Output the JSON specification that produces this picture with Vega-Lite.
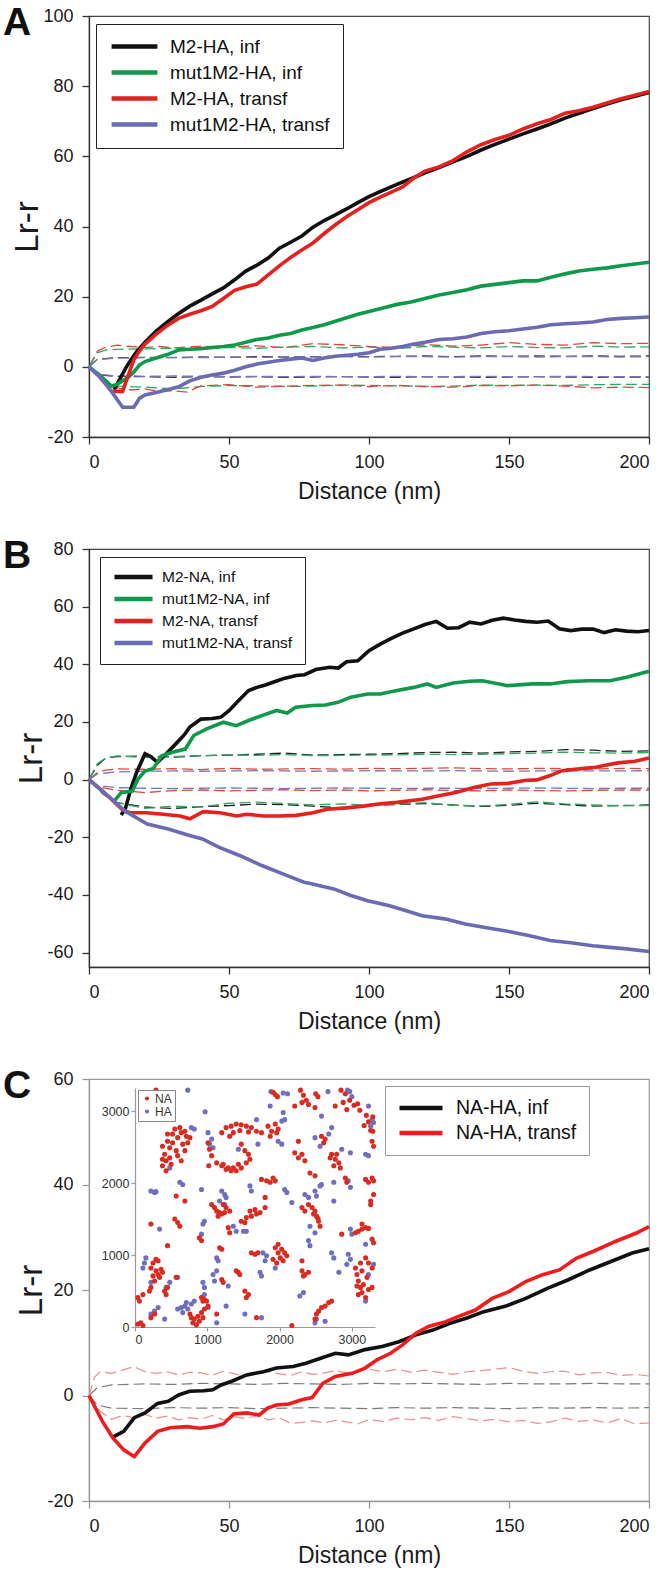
{
"$schema":"https://vega.github.io/schema/vega-lite/v6.json",
"background":"white",
"padding":{"left":2,"top":3,"right":5,"bottom":0},
"spacing":112,
"bounds":"flush",
"config":{
 "font":"Liberation Sans",
 "view":{"stroke":"#444","strokeWidth":1.2},
 "axis":{"grid":false,"domainColor":"#333","tickColor":"#333","tickSize":7,"domainWidth":1.3,"tickWidth":1.3,"labelFontSize":18,"labelColor":"#1a1a1a","labelPadding":9,"titleFontSize":23,"titleFontWeight":"normal","titleColor":"#1a1a1a","labelExpr":"'' + datum.value"},
 "axisX":{"titlePadding":9},
 "axisY":{"titleFontSize":33,"titlePadding":-2},
 "legend":{"title":null,"orient":"none","fillColor":"white","symbolType":"stroke","symbolStrokeWidth":4.5,"labelColor":"#111"}
},
"resolve":{"scale":{"color":"independent","stroke":"independent","fill":"independent"},"legend":{"color":"independent","stroke":"independent","fill":"independent"}},
"datasets":{
"A_solid":[
{"d":9,"v":-6.5,"s":"M2-HA, inf"},{"d":11,"v":-3.5,"s":"M2-HA, inf"},{"d":13,"v":-0.5,"s":"M2-HA, inf"},{"d":15,"v":2,"s":"M2-HA, inf"},{"d":17,"v":4.3,"s":"M2-HA, inf"},{"d":20,"v":7,"s":"M2-HA, inf"},{"d":24,"v":10.2,"s":"M2-HA, inf"},{"d":28,"v":12.8,"s":"M2-HA, inf"},{"d":32,"v":15.2,"s":"M2-HA, inf"},{"d":36,"v":17.3,"s":"M2-HA, inf"},{"d":40,"v":19,"s":"M2-HA, inf"},{"d":44,"v":20.8,"s":"M2-HA, inf"},{"d":48,"v":22.5,"s":"M2-HA, inf"},{"d":52,"v":24.8,"s":"M2-HA, inf"},{"d":56,"v":27.3,"s":"M2-HA, inf"},{"d":60,"v":29,"s":"M2-HA, inf"},{"d":64,"v":31,"s":"M2-HA, inf"},{"d":68,"v":33.8,"s":"M2-HA, inf"},{"d":72,"v":35.5,"s":"M2-HA, inf"},{"d":76,"v":37.3,"s":"M2-HA, inf"},{"d":80,"v":39.8,"s":"M2-HA, inf"},{"d":84,"v":41.7,"s":"M2-HA, inf"},{"d":88,"v":43.3,"s":"M2-HA, inf"},{"d":92,"v":45,"s":"M2-HA, inf"},{"d":96,"v":46.8,"s":"M2-HA, inf"},{"d":100,"v":48.5,"s":"M2-HA, inf"},{"d":105,"v":50.3,"s":"M2-HA, inf"},{"d":110,"v":52,"s":"M2-HA, inf"},{"d":115,"v":53.6,"s":"M2-HA, inf"},{"d":120,"v":55.3,"s":"M2-HA, inf"},{"d":125,"v":56.8,"s":"M2-HA, inf"},{"d":130,"v":58.4,"s":"M2-HA, inf"},{"d":135,"v":60,"s":"M2-HA, inf"},{"d":140,"v":61.8,"s":"M2-HA, inf"},{"d":145,"v":63.4,"s":"M2-HA, inf"},{"d":150,"v":64.9,"s":"M2-HA, inf"},{"d":155,"v":66.4,"s":"M2-HA, inf"},{"d":160,"v":67.8,"s":"M2-HA, inf"},{"d":165,"v":69.3,"s":"M2-HA, inf"},{"d":170,"v":70.9,"s":"M2-HA, inf"},{"d":175,"v":72.3,"s":"M2-HA, inf"},{"d":180,"v":73.6,"s":"M2-HA, inf"},{"d":185,"v":74.9,"s":"M2-HA, inf"},{"d":190,"v":76.1,"s":"M2-HA, inf"},{"d":195,"v":77.1,"s":"M2-HA, inf"},{"d":200,"v":78.2,"s":"M2-HA, inf"},
{"d":0,"v":0,"s":"mut1M2-HA, inf"},{"d":4,"v":-2.5,"s":"mut1M2-HA, inf"},{"d":8,"v":-5.5,"s":"mut1M2-HA, inf"},{"d":10,"v":-5,"s":"mut1M2-HA, inf"},{"d":12,"v":-4,"s":"mut1M2-HA, inf"},{"d":14,"v":-3,"s":"mut1M2-HA, inf"},{"d":16,"v":-1.5,"s":"mut1M2-HA, inf"},{"d":18,"v":0.5,"s":"mut1M2-HA, inf"},{"d":20,"v":1.5,"s":"mut1M2-HA, inf"},{"d":24,"v":2.5,"s":"mut1M2-HA, inf"},{"d":28,"v":3.5,"s":"mut1M2-HA, inf"},{"d":32,"v":4.8,"s":"mut1M2-HA, inf"},{"d":36,"v":5,"s":"mut1M2-HA, inf"},{"d":40,"v":5.2,"s":"mut1M2-HA, inf"},{"d":44,"v":5.5,"s":"mut1M2-HA, inf"},{"d":48,"v":5.8,"s":"mut1M2-HA, inf"},{"d":52,"v":6.2,"s":"mut1M2-HA, inf"},{"d":56,"v":7,"s":"mut1M2-HA, inf"},{"d":60,"v":7.8,"s":"mut1M2-HA, inf"},{"d":64,"v":8.2,"s":"mut1M2-HA, inf"},{"d":68,"v":9,"s":"mut1M2-HA, inf"},{"d":72,"v":9.5,"s":"mut1M2-HA, inf"},{"d":76,"v":10.5,"s":"mut1M2-HA, inf"},{"d":80,"v":11.2,"s":"mut1M2-HA, inf"},{"d":84,"v":12,"s":"mut1M2-HA, inf"},{"d":88,"v":13,"s":"mut1M2-HA, inf"},{"d":92,"v":14,"s":"mut1M2-HA, inf"},{"d":96,"v":15,"s":"mut1M2-HA, inf"},{"d":100,"v":15.8,"s":"mut1M2-HA, inf"},{"d":105,"v":16.8,"s":"mut1M2-HA, inf"},{"d":110,"v":17.8,"s":"mut1M2-HA, inf"},{"d":115,"v":18.5,"s":"mut1M2-HA, inf"},{"d":120,"v":19.5,"s":"mut1M2-HA, inf"},{"d":125,"v":20.5,"s":"mut1M2-HA, inf"},{"d":130,"v":21.2,"s":"mut1M2-HA, inf"},{"d":135,"v":22,"s":"mut1M2-HA, inf"},{"d":140,"v":23,"s":"mut1M2-HA, inf"},{"d":145,"v":23.5,"s":"mut1M2-HA, inf"},{"d":150,"v":24,"s":"mut1M2-HA, inf"},{"d":155,"v":24.5,"s":"mut1M2-HA, inf"},{"d":160,"v":24.5,"s":"mut1M2-HA, inf"},{"d":165,"v":25.5,"s":"mut1M2-HA, inf"},{"d":170,"v":26.5,"s":"mut1M2-HA, inf"},{"d":175,"v":27.3,"s":"mut1M2-HA, inf"},{"d":180,"v":27.8,"s":"mut1M2-HA, inf"},{"d":185,"v":28.2,"s":"mut1M2-HA, inf"},{"d":190,"v":28.8,"s":"mut1M2-HA, inf"},{"d":195,"v":29.3,"s":"mut1M2-HA, inf"},{"d":200,"v":29.8,"s":"mut1M2-HA, inf"},
{"d":8,"v":-7,"s":"M2-HA, transf"},{"d":12,"v":-7,"s":"M2-HA, transf"},{"d":14,"v":-2.5,"s":"M2-HA, transf"},{"d":16,"v":2,"s":"M2-HA, transf"},{"d":18,"v":4.5,"s":"M2-HA, transf"},{"d":20,"v":6.5,"s":"M2-HA, transf"},{"d":24,"v":9.3,"s":"M2-HA, transf"},{"d":28,"v":11.8,"s":"M2-HA, transf"},{"d":32,"v":13.8,"s":"M2-HA, transf"},{"d":36,"v":15,"s":"M2-HA, transf"},{"d":40,"v":16,"s":"M2-HA, transf"},{"d":44,"v":17.2,"s":"M2-HA, transf"},{"d":48,"v":19.5,"s":"M2-HA, transf"},{"d":52,"v":21.8,"s":"M2-HA, transf"},{"d":56,"v":22.8,"s":"M2-HA, transf"},{"d":60,"v":23.6,"s":"M2-HA, transf"},{"d":64,"v":26.2,"s":"M2-HA, transf"},{"d":68,"v":28.8,"s":"M2-HA, transf"},{"d":72,"v":31.2,"s":"M2-HA, transf"},{"d":76,"v":33.3,"s":"M2-HA, transf"},{"d":80,"v":35.3,"s":"M2-HA, transf"},{"d":84,"v":38,"s":"M2-HA, transf"},{"d":88,"v":40.5,"s":"M2-HA, transf"},{"d":92,"v":42.8,"s":"M2-HA, transf"},{"d":96,"v":44.8,"s":"M2-HA, transf"},{"d":100,"v":46.8,"s":"M2-HA, transf"},{"d":104,"v":48.4,"s":"M2-HA, transf"},{"d":108,"v":49.8,"s":"M2-HA, transf"},{"d":112,"v":51.3,"s":"M2-HA, transf"},{"d":116,"v":53.8,"s":"M2-HA, transf"},{"d":120,"v":55.8,"s":"M2-HA, transf"},{"d":125,"v":57,"s":"M2-HA, transf"},{"d":130,"v":58.8,"s":"M2-HA, transf"},{"d":135,"v":61.3,"s":"M2-HA, transf"},{"d":140,"v":63.3,"s":"M2-HA, transf"},{"d":145,"v":64.8,"s":"M2-HA, transf"},{"d":150,"v":66,"s":"M2-HA, transf"},{"d":155,"v":67.8,"s":"M2-HA, transf"},{"d":160,"v":69.3,"s":"M2-HA, transf"},{"d":165,"v":70.5,"s":"M2-HA, transf"},{"d":170,"v":72.3,"s":"M2-HA, transf"},{"d":175,"v":73,"s":"M2-HA, transf"},{"d":180,"v":74,"s":"M2-HA, transf"},{"d":185,"v":75.2,"s":"M2-HA, transf"},{"d":190,"v":76.4,"s":"M2-HA, transf"},{"d":195,"v":77.4,"s":"M2-HA, transf"},{"d":200,"v":78.5,"s":"M2-HA, transf"},
{"d":0,"v":0,"s":"mut1M2-HA, transf"},{"d":4,"v":-3,"s":"mut1M2-HA, transf"},{"d":8,"v":-7,"s":"mut1M2-HA, transf"},{"d":12,"v":-11.5,"s":"mut1M2-HA, transf"},{"d":16,"v":-11.5,"s":"mut1M2-HA, transf"},{"d":18,"v":-9,"s":"mut1M2-HA, transf"},{"d":20,"v":-8,"s":"mut1M2-HA, transf"},{"d":24,"v":-7.3,"s":"mut1M2-HA, transf"},{"d":28,"v":-6.5,"s":"mut1M2-HA, transf"},{"d":32,"v":-5.7,"s":"mut1M2-HA, transf"},{"d":36,"v":-4,"s":"mut1M2-HA, transf"},{"d":40,"v":-3,"s":"mut1M2-HA, transf"},{"d":44,"v":-2.3,"s":"mut1M2-HA, transf"},{"d":48,"v":-1.8,"s":"mut1M2-HA, transf"},{"d":52,"v":-1,"s":"mut1M2-HA, transf"},{"d":56,"v":0,"s":"mut1M2-HA, transf"},{"d":60,"v":0.8,"s":"mut1M2-HA, transf"},{"d":64,"v":1.3,"s":"mut1M2-HA, transf"},{"d":68,"v":1.8,"s":"mut1M2-HA, transf"},{"d":72,"v":2.2,"s":"mut1M2-HA, transf"},{"d":76,"v":2.5,"s":"mut1M2-HA, transf"},{"d":80,"v":1.8,"s":"mut1M2-HA, transf"},{"d":84,"v":2.5,"s":"mut1M2-HA, transf"},{"d":88,"v":3,"s":"mut1M2-HA, transf"},{"d":92,"v":3.3,"s":"mut1M2-HA, transf"},{"d":96,"v":3.6,"s":"mut1M2-HA, transf"},{"d":100,"v":4,"s":"mut1M2-HA, transf"},{"d":104,"v":5,"s":"mut1M2-HA, transf"},{"d":108,"v":5.3,"s":"mut1M2-HA, transf"},{"d":112,"v":5.8,"s":"mut1M2-HA, transf"},{"d":116,"v":6.5,"s":"mut1M2-HA, transf"},{"d":120,"v":7,"s":"mut1M2-HA, transf"},{"d":125,"v":7.8,"s":"mut1M2-HA, transf"},{"d":130,"v":8,"s":"mut1M2-HA, transf"},{"d":135,"v":8.5,"s":"mut1M2-HA, transf"},{"d":140,"v":9.5,"s":"mut1M2-HA, transf"},{"d":145,"v":10,"s":"mut1M2-HA, transf"},{"d":150,"v":10.3,"s":"mut1M2-HA, transf"},{"d":155,"v":10.8,"s":"mut1M2-HA, transf"},{"d":160,"v":11.3,"s":"mut1M2-HA, transf"},{"d":165,"v":12,"s":"mut1M2-HA, transf"},{"d":170,"v":12.3,"s":"mut1M2-HA, transf"},{"d":175,"v":12.5,"s":"mut1M2-HA, transf"},{"d":180,"v":12.8,"s":"mut1M2-HA, transf"},{"d":185,"v":13.5,"s":"mut1M2-HA, transf"},{"d":190,"v":13.8,"s":"mut1M2-HA, transf"},{"d":195,"v":14,"s":"mut1M2-HA, transf"},{"d":200,"v":14.2,"s":"mut1M2-HA, transf"}
],
"A_env":[
{"d":0,"v":0,"e":"r+"},{"d":3,"v":4.5,"e":"r+"},{"d":6,"v":5.6,"e":"r+"},{"d":10,"v":6.2,"e":"r+"},{"d":15,"v":5.8,"e":"r+"},{"d":20,"v":5.5,"e":"r+"},{"d":25,"v":5.8,"e":"r+"},{"d":30,"v":5.4,"e":"r+"},{"d":40,"v":5.9,"e":"r+"},{"d":50,"v":5.6,"e":"r+"},{"d":60,"v":6,"e":"r+"},{"d":70,"v":5.5,"e":"r+"},{"d":80,"v":6.6,"e":"r+"},{"d":90,"v":6.3,"e":"r+"},{"d":100,"v":5.8,"e":"r+"},{"d":110,"v":5.5,"e":"r+"},{"d":120,"v":6.3,"e":"r+"},{"d":130,"v":5.9,"e":"r+"},{"d":140,"v":6.2,"e":"r+"},{"d":150,"v":6.9,"e":"r+"},{"d":160,"v":6.4,"e":"r+"},{"d":170,"v":6.2,"e":"r+"},{"d":180,"v":6.9,"e":"r+"},{"d":190,"v":6.6,"e":"r+"},{"d":200,"v":6.7,"e":"r+"},
{"d":0,"v":0,"e":"g+"},{"d":3,"v":4,"e":"g+"},{"d":6,"v":4.8,"e":"g+"},{"d":10,"v":5,"e":"g+"},{"d":20,"v":5.1,"e":"g+"},{"d":30,"v":5.3,"e":"g+"},{"d":40,"v":5.1,"e":"g+"},{"d":50,"v":5.5,"e":"g+"},{"d":60,"v":5.3,"e":"g+"},{"d":70,"v":5.6,"e":"g+"},{"d":80,"v":5.8,"e":"g+"},{"d":90,"v":5.4,"e":"g+"},{"d":100,"v":5.6,"e":"g+"},{"d":110,"v":5.2,"e":"g+"},{"d":120,"v":5.8,"e":"g+"},{"d":130,"v":5.6,"e":"g+"},{"d":140,"v":5.4,"e":"g+"},{"d":150,"v":5.8,"e":"g+"},{"d":160,"v":5.5,"e":"g+"},{"d":170,"v":5.4,"e":"g+"},{"d":180,"v":5.9,"e":"g+"},{"d":190,"v":5.6,"e":"g+"},{"d":200,"v":5.7,"e":"g+"},
{"d":0,"v":0,"e":"k+"},{"d":3,"v":2.2,"e":"k+"},{"d":10,"v":2.6,"e":"k+"},{"d":20,"v":2.7,"e":"k+"},{"d":30,"v":2.6,"e":"k+"},{"d":40,"v":2.8,"e":"k+"},{"d":50,"v":2.7,"e":"k+"},{"d":60,"v":2.9,"e":"k+"},{"d":70,"v":2.8,"e":"k+"},{"d":80,"v":2.9,"e":"k+"},{"d":90,"v":3,"e":"k+"},{"d":100,"v":2.9,"e":"k+"},{"d":110,"v":3,"e":"k+"},{"d":120,"v":3.1,"e":"k+"},{"d":130,"v":2.9,"e":"k+"},{"d":140,"v":3.1,"e":"k+"},{"d":150,"v":3,"e":"k+"},{"d":160,"v":3.1,"e":"k+"},{"d":170,"v":3,"e":"k+"},{"d":180,"v":3.1,"e":"k+"},{"d":190,"v":3,"e":"k+"},{"d":200,"v":3.1,"e":"k+"},
{"d":0,"v":0,"e":"p+"},{"d":3,"v":2.1,"e":"p+"},{"d":10,"v":2.5,"e":"p+"},{"d":20,"v":2.6,"e":"p+"},{"d":30,"v":2.7,"e":"p+"},{"d":40,"v":2.6,"e":"p+"},{"d":50,"v":2.8,"e":"p+"},{"d":60,"v":2.7,"e":"p+"},{"d":70,"v":2.8,"e":"p+"},{"d":80,"v":2.8,"e":"p+"},{"d":90,"v":2.9,"e":"p+"},{"d":100,"v":2.8,"e":"p+"},{"d":110,"v":2.9,"e":"p+"},{"d":120,"v":2.9,"e":"p+"},{"d":130,"v":2.8,"e":"p+"},{"d":140,"v":2.9,"e":"p+"},{"d":150,"v":2.9,"e":"p+"},{"d":160,"v":2.8,"e":"p+"},{"d":170,"v":2.9,"e":"p+"},{"d":180,"v":2.9,"e":"p+"},{"d":190,"v":2.8,"e":"p+"},{"d":200,"v":2.9,"e":"p+"},
{"d":0,"v":0,"e":"k-"},{"d":3,"v":-2.3,"e":"k-"},{"d":10,"v":-2.7,"e":"k-"},{"d":20,"v":-2.8,"e":"k-"},{"d":30,"v":-3,"e":"k-"},{"d":40,"v":-2.8,"e":"k-"},{"d":50,"v":-2.9,"e":"k-"},{"d":60,"v":-2.8,"e":"k-"},{"d":70,"v":-3,"e":"k-"},{"d":80,"v":-2.9,"e":"k-"},{"d":90,"v":-2.8,"e":"k-"},{"d":100,"v":-2.9,"e":"k-"},{"d":110,"v":-3,"e":"k-"},{"d":120,"v":-2.8,"e":"k-"},{"d":130,"v":-2.9,"e":"k-"},{"d":140,"v":-3,"e":"k-"},{"d":150,"v":-2.9,"e":"k-"},{"d":160,"v":-2.8,"e":"k-"},{"d":170,"v":-2.9,"e":"k-"},{"d":180,"v":-3,"e":"k-"},{"d":190,"v":-2.9,"e":"k-"},{"d":200,"v":-2.9,"e":"k-"},
{"d":0,"v":0,"e":"p-"},{"d":3,"v":-2.1,"e":"p-"},{"d":10,"v":-2.6,"e":"p-"},{"d":20,"v":-2.7,"e":"p-"},{"d":30,"v":-2.6,"e":"p-"},{"d":40,"v":-2.7,"e":"p-"},{"d":50,"v":-2.8,"e":"p-"},{"d":60,"v":-2.7,"e":"p-"},{"d":70,"v":-2.8,"e":"p-"},{"d":80,"v":-2.7,"e":"p-"},{"d":90,"v":-2.8,"e":"p-"},{"d":100,"v":-2.8,"e":"p-"},{"d":110,"v":-2.7,"e":"p-"},{"d":120,"v":-2.8,"e":"p-"},{"d":130,"v":-2.8,"e":"p-"},{"d":140,"v":-2.7,"e":"p-"},{"d":150,"v":-2.8,"e":"p-"},{"d":160,"v":-2.8,"e":"p-"},{"d":170,"v":-2.7,"e":"p-"},{"d":180,"v":-2.8,"e":"p-"},{"d":190,"v":-2.8,"e":"p-"},{"d":200,"v":-2.8,"e":"p-"},
{"d":0,"v":0,"e":"g-"},{"d":5,"v":-4,"e":"g-"},{"d":10,"v":-5.5,"e":"g-"},{"d":20,"v":-5.8,"e":"g-"},{"d":30,"v":-6.3,"e":"g-"},{"d":40,"v":-5.6,"e":"g-"},{"d":50,"v":-5.3,"e":"g-"},{"d":60,"v":-5.4,"e":"g-"},{"d":70,"v":-5.6,"e":"g-"},{"d":80,"v":-5.5,"e":"g-"},{"d":90,"v":-5.2,"e":"g-"},{"d":100,"v":-5.3,"e":"g-"},{"d":110,"v":-5.4,"e":"g-"},{"d":120,"v":-5.6,"e":"g-"},{"d":130,"v":-5.5,"e":"g-"},{"d":140,"v":-5.2,"e":"g-"},{"d":150,"v":-5.3,"e":"g-"},{"d":160,"v":-5.2,"e":"g-"},{"d":170,"v":-5.3,"e":"g-"},{"d":180,"v":-5.1,"e":"g-"},{"d":190,"v":-5,"e":"g-"},{"d":200,"v":-5,"e":"g-"},
{"d":0,"v":0,"e":"r-"},{"d":5,"v":-4.5,"e":"r-"},{"d":10,"v":-6,"e":"r-"},{"d":15,"v":-6.6,"e":"r-"},{"d":20,"v":-6.3,"e":"r-"},{"d":25,"v":-7,"e":"r-"},{"d":30,"v":-6.8,"e":"r-"},{"d":35,"v":-7.2,"e":"r-"},{"d":40,"v":-5.4,"e":"r-"},{"d":50,"v":-5.1,"e":"r-"},{"d":60,"v":-5.8,"e":"r-"},{"d":70,"v":-5.5,"e":"r-"},{"d":80,"v":-5.3,"e":"r-"},{"d":90,"v":-5.2,"e":"r-"},{"d":100,"v":-5.6,"e":"r-"},{"d":110,"v":-5.3,"e":"r-"},{"d":120,"v":-5.6,"e":"r-"},{"d":130,"v":-5.8,"e":"r-"},{"d":140,"v":-5.3,"e":"r-"},{"d":150,"v":-5.4,"e":"r-"},{"d":160,"v":-5.2,"e":"r-"},{"d":170,"v":-5.5,"e":"r-"},{"d":180,"v":-6,"e":"r-"},{"d":190,"v":-5.8,"e":"r-"},{"d":200,"v":-5.9,"e":"r-"}
],
"B_solid":[
{"d":11.5,"v":-12.3,"s":"M2-NA, inf"},{"d":13,"v":-10,"s":"M2-NA, inf"},{"d":15,"v":-3,"s":"M2-NA, inf"},{"d":17,"v":2.5,"s":"M2-NA, inf"},{"d":20,"v":9,"s":"M2-NA, inf"},{"d":22,"v":8,"s":"M2-NA, inf"},{"d":24.5,"v":6,"s":"M2-NA, inf"},{"d":27.5,"v":8.9,"s":"M2-NA, inf"},{"d":31,"v":12.4,"s":"M2-NA, inf"},{"d":34,"v":15.5,"s":"M2-NA, inf"},{"d":36,"v":18.2,"s":"M2-NA, inf"},{"d":40,"v":21,"s":"M2-NA, inf"},{"d":44,"v":21.2,"s":"M2-NA, inf"},{"d":47,"v":21.6,"s":"M2-NA, inf"},{"d":50,"v":23.9,"s":"M2-NA, inf"},{"d":53,"v":27,"s":"M2-NA, inf"},{"d":57,"v":30.9,"s":"M2-NA, inf"},{"d":60,"v":32,"s":"M2-NA, inf"},{"d":63,"v":32.8,"s":"M2-NA, inf"},{"d":67,"v":34.2,"s":"M2-NA, inf"},{"d":70,"v":35.2,"s":"M2-NA, inf"},{"d":74,"v":36.1,"s":"M2-NA, inf"},{"d":77,"v":36.4,"s":"M2-NA, inf"},{"d":81,"v":38.2,"s":"M2-NA, inf"},{"d":86,"v":39,"s":"M2-NA, inf"},{"d":89,"v":38.7,"s":"M2-NA, inf"},{"d":92,"v":40.9,"s":"M2-NA, inf"},{"d":96,"v":41.2,"s":"M2-NA, inf"},{"d":100,"v":44.7,"s":"M2-NA, inf"},{"d":104,"v":47,"s":"M2-NA, inf"},{"d":108,"v":49,"s":"M2-NA, inf"},{"d":112,"v":50.8,"s":"M2-NA, inf"},{"d":116,"v":52.3,"s":"M2-NA, inf"},{"d":120,"v":53.8,"s":"M2-NA, inf"},{"d":124,"v":54.9,"s":"M2-NA, inf"},{"d":128,"v":52.5,"s":"M2-NA, inf"},{"d":132,"v":52.7,"s":"M2-NA, inf"},{"d":136,"v":54.6,"s":"M2-NA, inf"},{"d":140,"v":54,"s":"M2-NA, inf"},{"d":144,"v":55.3,"s":"M2-NA, inf"},{"d":148,"v":56,"s":"M2-NA, inf"},{"d":152,"v":55.4,"s":"M2-NA, inf"},{"d":156,"v":54.9,"s":"M2-NA, inf"},{"d":160,"v":54.6,"s":"M2-NA, inf"},{"d":164,"v":55,"s":"M2-NA, inf"},{"d":168,"v":52.3,"s":"M2-NA, inf"},{"d":172,"v":51.7,"s":"M2-NA, inf"},{"d":176,"v":52.2,"s":"M2-NA, inf"},{"d":180,"v":52.2,"s":"M2-NA, inf"},{"d":184,"v":51,"s":"M2-NA, inf"},{"d":188,"v":52,"s":"M2-NA, inf"},{"d":192,"v":51.5,"s":"M2-NA, inf"},{"d":196,"v":51.3,"s":"M2-NA, inf"},{"d":200,"v":51.7,"s":"M2-NA, inf"},
{"d":8.5,"v":-8,"s":"mut1M2-NA, inf"},{"d":11.5,"v":-4.5,"s":"mut1M2-NA, inf"},{"d":15.5,"v":-4,"s":"mut1M2-NA, inf"},{"d":17.5,"v":0.2,"s":"mut1M2-NA, inf"},{"d":20,"v":3,"s":"mut1M2-NA, inf"},{"d":23,"v":3.9,"s":"mut1M2-NA, inf"},{"d":26,"v":8.3,"s":"mut1M2-NA, inf"},{"d":29.8,"v":9.5,"s":"mut1M2-NA, inf"},{"d":34.4,"v":10.6,"s":"mut1M2-NA, inf"},{"d":37.4,"v":15.3,"s":"mut1M2-NA, inf"},{"d":42,"v":17.6,"s":"mut1M2-NA, inf"},{"d":48,"v":19.9,"s":"mut1M2-NA, inf"},{"d":52.6,"v":18.7,"s":"mut1M2-NA, inf"},{"d":57,"v":20.5,"s":"mut1M2-NA, inf"},{"d":61.7,"v":22.2,"s":"mut1M2-NA, inf"},{"d":67,"v":24,"s":"mut1M2-NA, inf"},{"d":70.8,"v":23.1,"s":"mut1M2-NA, inf"},{"d":73.8,"v":25.1,"s":"mut1M2-NA, inf"},{"d":79.8,"v":25.7,"s":"mut1M2-NA, inf"},{"d":84.4,"v":25.9,"s":"mut1M2-NA, inf"},{"d":88.9,"v":26.8,"s":"mut1M2-NA, inf"},{"d":93.5,"v":28.6,"s":"mut1M2-NA, inf"},{"d":99.5,"v":29.7,"s":"mut1M2-NA, inf"},{"d":104,"v":29.7,"s":"mut1M2-NA, inf"},{"d":110,"v":30.9,"s":"mut1M2-NA, inf"},{"d":116,"v":32,"s":"mut1M2-NA, inf"},{"d":120.8,"v":33.2,"s":"mut1M2-NA, inf"},{"d":124,"v":32,"s":"mut1M2-NA, inf"},{"d":130,"v":33.5,"s":"mut1M2-NA, inf"},{"d":136,"v":34.1,"s":"mut1M2-NA, inf"},{"d":140.5,"v":34.3,"s":"mut1M2-NA, inf"},{"d":146.5,"v":33.2,"s":"mut1M2-NA, inf"},{"d":149.5,"v":32.6,"s":"mut1M2-NA, inf"},{"d":158.6,"v":33.2,"s":"mut1M2-NA, inf"},{"d":164.7,"v":33.2,"s":"mut1M2-NA, inf"},{"d":170.8,"v":34,"s":"mut1M2-NA, inf"},{"d":178.3,"v":34.3,"s":"mut1M2-NA, inf"},{"d":186,"v":34.3,"s":"mut1M2-NA, inf"},{"d":192,"v":35.5,"s":"mut1M2-NA, inf"},{"d":200,"v":37.6,"s":"mut1M2-NA, inf"},
{"d":0,"v":0,"s":"M2-NA, transf"},{"d":4,"v":-3.3,"s":"M2-NA, transf"},{"d":8,"v":-6.8,"s":"M2-NA, transf"},{"d":12,"v":-10.5,"s":"M2-NA, transf"},{"d":14.6,"v":-11.5,"s":"M2-NA, transf"},{"d":20.6,"v":-11.5,"s":"M2-NA, transf"},{"d":26.5,"v":-12,"s":"M2-NA, transf"},{"d":32.5,"v":-12.6,"s":"M2-NA, transf"},{"d":36,"v":-13.6,"s":"M2-NA, transf"},{"d":40.8,"v":-11.1,"s":"M2-NA, transf"},{"d":46.8,"v":-11.5,"s":"M2-NA, transf"},{"d":52.7,"v":-12.6,"s":"M2-NA, transf"},{"d":56.3,"v":-12,"s":"M2-NA, transf"},{"d":62.3,"v":-12.6,"s":"M2-NA, transf"},{"d":68.2,"v":-12.6,"s":"M2-NA, transf"},{"d":74,"v":-12.4,"s":"M2-NA, transf"},{"d":80,"v":-11.5,"s":"M2-NA, transf"},{"d":85,"v":-10.3,"s":"M2-NA, transf"},{"d":92,"v":-9.8,"s":"M2-NA, transf"},{"d":98,"v":-9.2,"s":"M2-NA, transf"},{"d":104,"v":-8.4,"s":"M2-NA, transf"},{"d":110,"v":-7.9,"s":"M2-NA, transf"},{"d":119,"v":-6.8,"s":"M2-NA, transf"},{"d":125,"v":-5.6,"s":"M2-NA, transf"},{"d":131.4,"v":-4.4,"s":"M2-NA, transf"},{"d":137.4,"v":-2.7,"s":"M2-NA, transf"},{"d":143.5,"v":-1.5,"s":"M2-NA, transf"},{"d":149.5,"v":-1.3,"s":"M2-NA, transf"},{"d":155.6,"v":-0.3,"s":"M2-NA, transf"},{"d":160,"v":-0.1,"s":"M2-NA, transf"},{"d":164.7,"v":1.4,"s":"M2-NA, transf"},{"d":169,"v":3.1,"s":"M2-NA, transf"},{"d":176.8,"v":3.9,"s":"M2-NA, transf"},{"d":181,"v":4.3,"s":"M2-NA, transf"},{"d":184,"v":4.9,"s":"M2-NA, transf"},{"d":188.9,"v":5.8,"s":"M2-NA, transf"},{"d":195,"v":6.4,"s":"M2-NA, transf"},{"d":200,"v":7.5,"s":"M2-NA, transf"},
{"d":0,"v":0,"s":"mut1M2-NA, transf"},{"d":7,"v":-5.8,"s":"mut1M2-NA, transf"},{"d":13,"v":-11,"s":"mut1M2-NA, transf"},{"d":20.8,"v":-15.4,"s":"mut1M2-NA, transf"},{"d":28.3,"v":-17.1,"s":"mut1M2-NA, transf"},{"d":35.9,"v":-19.4,"s":"mut1M2-NA, transf"},{"d":40.5,"v":-20.6,"s":"mut1M2-NA, transf"},{"d":46.5,"v":-23.5,"s":"mut1M2-NA, transf"},{"d":54,"v":-26.4,"s":"mut1M2-NA, transf"},{"d":61.7,"v":-29.8,"s":"mut1M2-NA, transf"},{"d":70.8,"v":-33.3,"s":"mut1M2-NA, transf"},{"d":76.8,"v":-35.6,"s":"mut1M2-NA, transf"},{"d":79.8,"v":-36.2,"s":"mut1M2-NA, transf"},{"d":87.4,"v":-37.9,"s":"mut1M2-NA, transf"},{"d":93.5,"v":-40.2,"s":"mut1M2-NA, transf"},{"d":99.5,"v":-42,"s":"mut1M2-NA, transf"},{"d":107,"v":-43.7,"s":"mut1M2-NA, transf"},{"d":113,"v":-45.4,"s":"mut1M2-NA, transf"},{"d":119,"v":-47.2,"s":"mut1M2-NA, transf"},{"d":127,"v":-48.3,"s":"mut1M2-NA, transf"},{"d":134.4,"v":-50.1,"s":"mut1M2-NA, transf"},{"d":142,"v":-51.4,"s":"mut1M2-NA, transf"},{"d":149.5,"v":-52.6,"s":"mut1M2-NA, transf"},{"d":157,"v":-54.1,"s":"mut1M2-NA, transf"},{"d":164.7,"v":-55.8,"s":"mut1M2-NA, transf"},{"d":172,"v":-56.6,"s":"mut1M2-NA, transf"},{"d":180,"v":-57.6,"s":"mut1M2-NA, transf"},{"d":186,"v":-58.2,"s":"mut1M2-NA, transf"},{"d":192,"v":-58.7,"s":"mut1M2-NA, transf"},{"d":200,"v":-59.6,"s":"mut1M2-NA, transf"}
],
"B_env":[
{"d":0,"v":0,"e":"k+"},{"d":3,"v":5,"e":"k+"},{"d":6,"v":7.5,"e":"k+"},{"d":10,"v":8,"e":"k+"},{"d":20,"v":8.2,"e":"k+"},{"d":30,"v":7.8,"e":"k+"},{"d":40,"v":8.3,"e":"k+"},{"d":50,"v":8.5,"e":"k+"},{"d":60,"v":8.8,"e":"k+"},{"d":70,"v":9.2,"e":"k+"},{"d":80,"v":8.5,"e":"k+"},{"d":90,"v":8.7,"e":"k+"},{"d":100,"v":8.8,"e":"k+"},{"d":110,"v":9,"e":"k+"},{"d":120,"v":9.4,"e":"k+"},{"d":130,"v":9.5,"e":"k+"},{"d":140,"v":9.2,"e":"k+"},{"d":150,"v":9.6,"e":"k+"},{"d":160,"v":9.8,"e":"k+"},{"d":170,"v":10.4,"e":"k+"},{"d":180,"v":10.2,"e":"k+"},{"d":190,"v":9.8,"e":"k+"},{"d":200,"v":10,"e":"k+"},
{"d":0,"v":0,"e":"g+"},{"d":3,"v":5.5,"e":"g+"},{"d":6,"v":7.5,"e":"g+"},{"d":10,"v":8.2,"e":"g+"},{"d":20,"v":7.7,"e":"g+"},{"d":30,"v":8,"e":"g+"},{"d":40,"v":8.3,"e":"g+"},{"d":50,"v":8.6,"e":"g+"},{"d":60,"v":8.4,"e":"g+"},{"d":70,"v":8.7,"e":"g+"},{"d":80,"v":8.3,"e":"g+"},{"d":90,"v":8.4,"e":"g+"},{"d":100,"v":8.5,"e":"g+"},{"d":110,"v":8.6,"e":"g+"},{"d":120,"v":8.8,"e":"g+"},{"d":130,"v":8.7,"e":"g+"},{"d":140,"v":8.8,"e":"g+"},{"d":150,"v":9,"e":"g+"},{"d":160,"v":9.2,"e":"g+"},{"d":170,"v":9.5,"e":"g+"},{"d":180,"v":9.3,"e":"g+"},{"d":190,"v":9.2,"e":"g+"},{"d":200,"v":9.4,"e":"g+"},
{"d":0,"v":0,"e":"r+"},{"d":3,"v":2.5,"e":"r+"},{"d":6,"v":3.3,"e":"r+"},{"d":10,"v":3.7,"e":"r+"},{"d":20,"v":3.6,"e":"r+"},{"d":30,"v":3.8,"e":"r+"},{"d":40,"v":3.5,"e":"r+"},{"d":50,"v":3.9,"e":"r+"},{"d":60,"v":3.6,"e":"r+"},{"d":70,"v":3.7,"e":"r+"},{"d":80,"v":3.8,"e":"r+"},{"d":90,"v":3.6,"e":"r+"},{"d":100,"v":3.9,"e":"r+"},{"d":110,"v":3.8,"e":"r+"},{"d":120,"v":3.9,"e":"r+"},{"d":130,"v":4.1,"e":"r+"},{"d":140,"v":3.8,"e":"r+"},{"d":150,"v":3.7,"e":"r+"},{"d":160,"v":3.9,"e":"r+"},{"d":170,"v":3.8,"e":"r+"},{"d":180,"v":3.7,"e":"r+"},{"d":190,"v":3.9,"e":"r+"},{"d":200,"v":3.8,"e":"r+"},
{"d":0,"v":0,"e":"p+"},{"d":3,"v":2,"e":"p+"},{"d":10,"v":2.7,"e":"p+"},{"d":20,"v":2.9,"e":"p+"},{"d":30,"v":3,"e":"p+"},{"d":40,"v":2.9,"e":"p+"},{"d":50,"v":3,"e":"p+"},{"d":60,"v":3.1,"e":"p+"},{"d":70,"v":3,"e":"p+"},{"d":80,"v":2.9,"e":"p+"},{"d":90,"v":3,"e":"p+"},{"d":100,"v":3.1,"e":"p+"},{"d":110,"v":3,"e":"p+"},{"d":120,"v":3,"e":"p+"},{"d":130,"v":3.1,"e":"p+"},{"d":140,"v":3,"e":"p+"},{"d":150,"v":2.9,"e":"p+"},{"d":160,"v":3,"e":"p+"},{"d":170,"v":3.1,"e":"p+"},{"d":180,"v":3,"e":"p+"},{"d":190,"v":3,"e":"p+"},{"d":200,"v":3.1,"e":"p+"},
{"d":0,"v":0,"e":"p-"},{"d":3,"v":-2,"e":"p-"},{"d":10,"v":-2.8,"e":"p-"},{"d":20,"v":-3,"e":"p-"},{"d":30,"v":-3.1,"e":"p-"},{"d":40,"v":-3,"e":"p-"},{"d":50,"v":-2.9,"e":"p-"},{"d":60,"v":-3,"e":"p-"},{"d":70,"v":-3.1,"e":"p-"},{"d":80,"v":-3,"e":"p-"},{"d":90,"v":-2.9,"e":"p-"},{"d":100,"v":-3,"e":"p-"},{"d":110,"v":-3.1,"e":"p-"},{"d":120,"v":-3,"e":"p-"},{"d":130,"v":-3,"e":"p-"},{"d":140,"v":-3.1,"e":"p-"},{"d":150,"v":-3,"e":"p-"},{"d":160,"v":-2.9,"e":"p-"},{"d":170,"v":-3,"e":"p-"},{"d":180,"v":-3.1,"e":"p-"},{"d":190,"v":-3,"e":"p-"},{"d":200,"v":-3,"e":"p-"},
{"d":0,"v":0,"e":"r-"},{"d":3,"v":-2.5,"e":"r-"},{"d":10,"v":-3.7,"e":"r-"},{"d":20,"v":-4.5,"e":"r-"},{"d":30,"v":-3.8,"e":"r-"},{"d":40,"v":-3.6,"e":"r-"},{"d":50,"v":-3.9,"e":"r-"},{"d":60,"v":-3.7,"e":"r-"},{"d":70,"v":-3.5,"e":"r-"},{"d":80,"v":-3.8,"e":"r-"},{"d":90,"v":-3.6,"e":"r-"},{"d":100,"v":-3.9,"e":"r-"},{"d":110,"v":-3.7,"e":"r-"},{"d":120,"v":-3.5,"e":"r-"},{"d":130,"v":-3.8,"e":"r-"},{"d":140,"v":-3.9,"e":"r-"},{"d":150,"v":-3.6,"e":"r-"},{"d":160,"v":-3.8,"e":"r-"},{"d":170,"v":-3.9,"e":"r-"},{"d":180,"v":-3.7,"e":"r-"},{"d":190,"v":-3.6,"e":"r-"},{"d":200,"v":-3.6,"e":"r-"},
{"d":0,"v":0,"e":"k-"},{"d":5,"v":-5,"e":"k-"},{"d":10,"v":-8,"e":"k-"},{"d":20,"v":-9.5,"e":"k-"},{"d":30,"v":-10,"e":"k-"},{"d":40,"v":-9.4,"e":"k-"},{"d":50,"v":-9,"e":"k-"},{"d":60,"v":-8.5,"e":"k-"},{"d":70,"v":-8.7,"e":"k-"},{"d":80,"v":-9.2,"e":"k-"},{"d":90,"v":-9.8,"e":"k-"},{"d":100,"v":-9,"e":"k-"},{"d":110,"v":-8.6,"e":"k-"},{"d":120,"v":-8.3,"e":"k-"},{"d":130,"v":-8.8,"e":"k-"},{"d":140,"v":-9.3,"e":"k-"},{"d":150,"v":-8.9,"e":"k-"},{"d":160,"v":-8.2,"e":"k-"},{"d":170,"v":-8.7,"e":"k-"},{"d":180,"v":-9.2,"e":"k-"},{"d":190,"v":-9,"e":"k-"},{"d":200,"v":-8.8,"e":"k-"},
{"d":0,"v":0,"e":"g-"},{"d":5,"v":-5,"e":"g-"},{"d":10,"v":-8,"e":"g-"},{"d":20,"v":-10,"e":"g-"},{"d":30,"v":-9.2,"e":"g-"},{"d":40,"v":-9.5,"e":"g-"},{"d":50,"v":-8.2,"e":"g-"},{"d":60,"v":-7.8,"e":"g-"},{"d":70,"v":-8.3,"e":"g-"},{"d":80,"v":-8.8,"e":"g-"},{"d":90,"v":-8.4,"e":"g-"},{"d":100,"v":-8.9,"e":"g-"},{"d":110,"v":-8.5,"e":"g-"},{"d":120,"v":-8,"e":"g-"},{"d":130,"v":-8.9,"e":"g-"},{"d":140,"v":-9.1,"e":"g-"},{"d":150,"v":-8.6,"e":"g-"},{"d":160,"v":-7.7,"e":"g-"},{"d":170,"v":-8.4,"e":"g-"},{"d":180,"v":-8.8,"e":"g-"},{"d":190,"v":-9,"e":"g-"},{"d":200,"v":-9,"e":"g-"}
],
"C_solid":[
{"d":8.2,"v":-8,"s":"NA-HA, inf"},{"d":12.4,"v":-6.8,"s":"NA-HA, inf"},{"d":16.2,"v":-4.2,"s":"NA-HA, inf"},{"d":20,"v":-3.3,"s":"NA-HA, inf"},{"d":24.5,"v":-1.5,"s":"NA-HA, inf"},{"d":28.3,"v":-1.1,"s":"NA-HA, inf"},{"d":32,"v":0.1,"s":"NA-HA, inf"},{"d":35.9,"v":0.8,"s":"NA-HA, inf"},{"d":41,"v":0.9,"s":"NA-HA, inf"},{"d":44.2,"v":1.1,"s":"NA-HA, inf"},{"d":47.2,"v":2,"s":"NA-HA, inf"},{"d":51,"v":2.7,"s":"NA-HA, inf"},{"d":56.3,"v":3.9,"s":"NA-HA, inf"},{"d":62.3,"v":4.5,"s":"NA-HA, inf"},{"d":66.9,"v":5.2,"s":"NA-HA, inf"},{"d":72.9,"v":5.5,"s":"NA-HA, inf"},{"d":77.5,"v":6.1,"s":"NA-HA, inf"},{"d":83.5,"v":7.2,"s":"NA-HA, inf"},{"d":88,"v":8,"s":"NA-HA, inf"},{"d":92.6,"v":7.7,"s":"NA-HA, inf"},{"d":98.6,"v":8.7,"s":"NA-HA, inf"},{"d":104.7,"v":9.3,"s":"NA-HA, inf"},{"d":110.7,"v":10.2,"s":"NA-HA, inf"},{"d":116.8,"v":11.5,"s":"NA-HA, inf"},{"d":122.8,"v":12.4,"s":"NA-HA, inf"},{"d":128.9,"v":13.7,"s":"NA-HA, inf"},{"d":135,"v":14.7,"s":"NA-HA, inf"},{"d":141,"v":15.9,"s":"NA-HA, inf"},{"d":148.6,"v":16.9,"s":"NA-HA, inf"},{"d":156,"v":18.4,"s":"NA-HA, inf"},{"d":163.7,"v":20.3,"s":"NA-HA, inf"},{"d":171,"v":21.9,"s":"NA-HA, inf"},{"d":178.8,"v":23.8,"s":"NA-HA, inf"},{"d":186.4,"v":25.4,"s":"NA-HA, inf"},{"d":194,"v":27,"s":"NA-HA, inf"},{"d":200,"v":27.8,"s":"NA-HA, inf"},
{"d":0,"v":0,"s":"NA-HA, transf"},{"d":4.8,"v":-4.9,"s":"NA-HA, transf"},{"d":8.6,"v":-8.1,"s":"NA-HA, transf"},{"d":12.4,"v":-10.3,"s":"NA-HA, transf"},{"d":16.2,"v":-11.6,"s":"NA-HA, transf"},{"d":20,"v":-9,"s":"NA-HA, transf"},{"d":24.5,"v":-6.8,"s":"NA-HA, transf"},{"d":29,"v":-6.1,"s":"NA-HA, transf"},{"d":35,"v":-5.9,"s":"NA-HA, transf"},{"d":39.6,"v":-6.2,"s":"NA-HA, transf"},{"d":44.2,"v":-5.9,"s":"NA-HA, transf"},{"d":48,"v":-5.4,"s":"NA-HA, transf"},{"d":51.7,"v":-3.5,"s":"NA-HA, transf"},{"d":56.3,"v":-3.3,"s":"NA-HA, transf"},{"d":60.8,"v":-3.7,"s":"NA-HA, transf"},{"d":63.8,"v":-2.4,"s":"NA-HA, transf"},{"d":66.9,"v":-1.8,"s":"NA-HA, transf"},{"d":71.4,"v":-1.6,"s":"NA-HA, transf"},{"d":76,"v":-0.8,"s":"NA-HA, transf"},{"d":79.7,"v":-0.4,"s":"NA-HA, transf"},{"d":83.5,"v":2.3,"s":"NA-HA, transf"},{"d":88,"v":3.6,"s":"NA-HA, transf"},{"d":94,"v":4.2,"s":"NA-HA, transf"},{"d":98.6,"v":5.2,"s":"NA-HA, transf"},{"d":103,"v":6.8,"s":"NA-HA, transf"},{"d":107.7,"v":8,"s":"NA-HA, transf"},{"d":112,"v":9.6,"s":"NA-HA, transf"},{"d":116.8,"v":11.8,"s":"NA-HA, transf"},{"d":121.3,"v":13.1,"s":"NA-HA, transf"},{"d":127.4,"v":14,"s":"NA-HA, transf"},{"d":132,"v":15,"s":"NA-HA, transf"},{"d":138,"v":16.2,"s":"NA-HA, transf"},{"d":144,"v":18.4,"s":"NA-HA, transf"},{"d":150,"v":19.7,"s":"NA-HA, transf"},{"d":156,"v":21.6,"s":"NA-HA, transf"},{"d":162,"v":22.9,"s":"NA-HA, transf"},{"d":168,"v":23.8,"s":"NA-HA, transf"},{"d":174,"v":26,"s":"NA-HA, transf"},{"d":180,"v":27.3,"s":"NA-HA, transf"},{"d":188,"v":29.2,"s":"NA-HA, transf"},{"d":195.5,"v":30.8,"s":"NA-HA, transf"},{"d":200,"v":32,"s":"NA-HA, transf"}
],
"C_env":[
{"d":0,"v":0,"e":"k+"},{"d":3,"v":1.5,"e":"k+"},{"d":8,"v":2,"e":"k+"},{"d":20,"v":2.2,"e":"k+"},{"d":30,"v":2.1,"e":"k+"},{"d":40,"v":2.3,"e":"k+"},{"d":50,"v":2.2,"e":"k+"},{"d":60,"v":2.1,"e":"k+"},{"d":70,"v":2.3,"e":"k+"},{"d":80,"v":2.2,"e":"k+"},{"d":90,"v":2.1,"e":"k+"},{"d":100,"v":2.3,"e":"k+"},{"d":110,"v":2.2,"e":"k+"},{"d":120,"v":2.3,"e":"k+"},{"d":130,"v":2.2,"e":"k+"},{"d":140,"v":2.1,"e":"k+"},{"d":150,"v":2.3,"e":"k+"},{"d":160,"v":2.2,"e":"k+"},{"d":170,"v":2.2,"e":"k+"},{"d":180,"v":2.3,"e":"k+"},{"d":190,"v":2.2,"e":"k+"},{"d":200,"v":2.2,"e":"k+"},
{"d":0,"v":0,"e":"k-"},{"d":3,"v":-1.8,"e":"k-"},{"d":8,"v":-2.4,"e":"k-"},{"d":20,"v":-2.5,"e":"k-"},{"d":30,"v":-2.3,"e":"k-"},{"d":40,"v":-2.4,"e":"k-"},{"d":50,"v":-2.3,"e":"k-"},{"d":60,"v":-2.5,"e":"k-"},{"d":70,"v":-2.4,"e":"k-"},{"d":80,"v":-2.3,"e":"k-"},{"d":90,"v":-2.4,"e":"k-"},{"d":100,"v":-2.5,"e":"k-"},{"d":110,"v":-2.3,"e":"k-"},{"d":120,"v":-2.4,"e":"k-"},{"d":130,"v":-2.3,"e":"k-"},{"d":140,"v":-2.4,"e":"k-"},{"d":150,"v":-2.5,"e":"k-"},{"d":160,"v":-2.3,"e":"k-"},{"d":170,"v":-2.4,"e":"k-"},{"d":180,"v":-2.3,"e":"k-"},{"d":190,"v":-2.4,"e":"k-"},{"d":200,"v":-2.3,"e":"k-"},
{"d":0,"v":0,"e":"r+"},{"d":2,"v":3.5,"e":"r+"},{"d":4,"v":4.5,"e":"r+"},{"d":8,"v":4.2,"e":"r+"},{"d":12,"v":4.8,"e":"r+"},{"d":16,"v":5.5,"e":"r+"},{"d":20,"v":4.5,"e":"r+"},{"d":24,"v":4.2,"e":"r+"},{"d":28,"v":4.5,"e":"r+"},{"d":32,"v":3.9,"e":"r+"},{"d":36,"v":4.4,"e":"r+"},{"d":40,"v":4.3,"e":"r+"},{"d":44,"v":3.8,"e":"r+"},{"d":48,"v":4.6,"e":"r+"},{"d":52,"v":4.1,"e":"r+"},{"d":56,"v":3.6,"e":"r+"},{"d":60,"v":4.3,"e":"r+"},{"d":64,"v":4.5,"e":"r+"},{"d":68,"v":4.1,"e":"r+"},{"d":72,"v":3.8,"e":"r+"},{"d":76,"v":4.5,"e":"r+"},{"d":80,"v":4,"e":"r+"},{"d":84,"v":4.3,"e":"r+"},{"d":88,"v":4.7,"e":"r+"},{"d":92,"v":4.3,"e":"r+"},{"d":96,"v":4.6,"e":"r+"},{"d":100,"v":5,"e":"r+"},{"d":105,"v":4.5,"e":"r+"},{"d":110,"v":5,"e":"r+"},{"d":115,"v":4.4,"e":"r+"},{"d":120,"v":4.8,"e":"r+"},{"d":125,"v":4.4,"e":"r+"},{"d":130,"v":4,"e":"r+"},{"d":135,"v":4.5,"e":"r+"},{"d":140,"v":4.7,"e":"r+"},{"d":145,"v":5,"e":"r+"},{"d":150,"v":5.3,"e":"r+"},{"d":155,"v":4.6,"e":"r+"},{"d":160,"v":4.2,"e":"r+"},{"d":165,"v":4.5,"e":"r+"},{"d":170,"v":4.6,"e":"r+"},{"d":175,"v":3.9,"e":"r+"},{"d":180,"v":4.3,"e":"r+"},{"d":185,"v":4.4,"e":"r+"},{"d":190,"v":3.8,"e":"r+"},{"d":195,"v":4,"e":"r+"},{"d":200,"v":3.7,"e":"r+"},
{"d":0,"v":0,"e":"r-"},{"d":4,"v":-3,"e":"r-"},{"d":8,"v":-4.5,"e":"r-"},{"d":12,"v":-3.8,"e":"r-"},{"d":16,"v":-4.2,"e":"r-"},{"d":20,"v":-3.6,"e":"r-"},{"d":24,"v":-4.3,"e":"r-"},{"d":28,"v":-3.9,"e":"r-"},{"d":32,"v":-4.6,"e":"r-"},{"d":36,"v":-4.2,"e":"r-"},{"d":40,"v":-4.5,"e":"r-"},{"d":44,"v":-3.8,"e":"r-"},{"d":48,"v":-4.6,"e":"r-"},{"d":52,"v":-4,"e":"r-"},{"d":56,"v":-4.4,"e":"r-"},{"d":60,"v":-3.8,"e":"r-"},{"d":64,"v":-4.6,"e":"r-"},{"d":68,"v":-4.2,"e":"r-"},{"d":72,"v":-5.3,"e":"r-"},{"d":76,"v":-5.1,"e":"r-"},{"d":80,"v":-4.8,"e":"r-"},{"d":84,"v":-5.2,"e":"r-"},{"d":88,"v":-4.7,"e":"r-"},{"d":92,"v":-5,"e":"r-"},{"d":96,"v":-5.4,"e":"r-"},{"d":100,"v":-4.6,"e":"r-"},{"d":105,"v":-4.9,"e":"r-"},{"d":110,"v":-4.3,"e":"r-"},{"d":115,"v":-4.6,"e":"r-"},{"d":120,"v":-4.2,"e":"r-"},{"d":125,"v":-4.7,"e":"r-"},{"d":130,"v":-4,"e":"r-"},{"d":135,"v":-4.4,"e":"r-"},{"d":140,"v":-4.8,"e":"r-"},{"d":145,"v":-4.5,"e":"r-"},{"d":150,"v":-5,"e":"r-"},{"d":155,"v":-4.7,"e":"r-"},{"d":160,"v":-5.3,"e":"r-"},{"d":165,"v":-5,"e":"r-"},{"d":170,"v":-4.3,"e":"r-"},{"d":175,"v":-4.9,"e":"r-"},{"d":180,"v":-4.6,"e":"r-"},{"d":185,"v":-5.2,"e":"r-"},{"d":190,"v":-4.4,"e":"r-"},{"d":195,"v":-5.4,"e":"r-"},{"d":200,"v":-5.2,"e":"r-"}
],
"C_inset":[
{"ix":1870,"iy":3070,"k":"HA"},{"ix":2050,"iy":2980,"k":"HA"},{"ix":2070,"iy":2880,"k":"HA"},{"ix":2030,"iy":2860,"k":"HA"},{"ix":1680,"iy":2880,"k":"HA"},{"ix":820,"iy":2750,"k":"HA"},{"ix":780,"iy":2770,"k":"HA"},{"ix":1010,"iy":2700,"k":"HA"},{"ix":1060,"iy":2610,"k":"HA"},{"ix":1030,"iy":2540,"k":"HA"},{"ix":1080,"iy":2490,"k":"HA"},{"ix":2580,"iy":2930,"k":"HA"},{"ix":2720,"iy":2770,"k":"HA"},{"ix":2680,"iy":2680,"k":"HA"},{"ix":3230,"iy":3070,"k":"HA"},{"ix":3280,"iy":2880,"k":"HA"},{"ix":3260,"iy":2790,"k":"HA"},{"ix":3300,"iy":2840,"k":"HA"},
{"ix":480,"iy":2210,"k":"HA"},{"ix":1430,"iy":2470,"k":"HA"},{"ix":1700,"iy":2540,"k":"HA"},{"ix":1980,"iy":2580,"k":"HA"},{"ix":2030,"iy":2540,"k":"HA"},{"ix":2490,"iy":2630,"k":"HA"},{"ix":2560,"iy":2510,"k":"HA"},{"ix":2860,"iy":2470,"k":"HA"},{"ix":2980,"iy":2420,"k":"HA"},{"ix":3190,"iy":2400,"k":"HA"},{"ix":3230,"iy":2380,"k":"HA"},
{"ix":220,"iy":1890,"k":"HA"},{"ix":270,"iy":1870,"k":"HA"},{"ix":290,"iy":1880,"k":"HA"},{"ix":620,"iy":2010,"k":"HA"},{"ix":660,"iy":1980,"k":"HA"},{"ix":920,"iy":1910,"k":"HA"},{"ix":1200,"iy":1890,"k":"HA"},{"ix":1240,"iy":1840,"k":"HA"},{"ix":1260,"iy":1800,"k":"HA"},{"ix":1590,"iy":1960,"k":"HA"},{"ix":1610,"iy":1890,"k":"HA"},{"ix":2070,"iy":1910,"k":"HA"},{"ix":2100,"iy":1870,"k":"HA"},{"ix":2350,"iy":1840,"k":"HA"},{"ix":2400,"iy":1800,"k":"HA"},{"ix":2490,"iy":1890,"k":"HA"},{"ix":2580,"iy":1980,"k":"HA"},{"ix":2560,"iy":1960,"k":"HA"},{"ix":2950,"iy":2030,"k":"HA"},{"ix":2980,"iy":1940,"k":"HA"},{"ix":2750,"iy":2010,"k":"HA"},
{"ix":920,"iy":1290,"k":"HA"},{"ix":940,"iy":1430,"k":"HA"},{"ix":960,"iy":1470,"k":"HA"},{"ix":1170,"iy":1750,"k":"HA"},{"ix":1240,"iy":1700,"k":"HA"},{"ix":1360,"iy":1400,"k":"HA"},{"ix":1400,"iy":1330,"k":"HA"},{"ix":1500,"iy":1330,"k":"HA"},{"ix":1540,"iy":1330,"k":"HA"},{"ix":2170,"iy":1730,"k":"HA"},{"ix":2510,"iy":1820,"k":"HA"},{"ix":2490,"iy":1310,"k":"HA"},{"ix":2420,"iy":1400,"k":"HA"},{"ix":2750,"iy":1750,"k":"HA"},{"ix":2980,"iy":1360,"k":"HA"},{"ix":3000,"iy":1290,"k":"HA"},{"ix":340,"iy":1360,"k":"HA"},
{"ix":130,"iy":890,"k":"HA"},{"ix":150,"iy":960,"k":"HA"},{"ix":1130,"iy":960,"k":"HA"},{"ix":1150,"iy":920,"k":"HA"},{"ix":1770,"iy":1030,"k":"HA"},{"ix":1820,"iy":990,"k":"HA"},{"ix":1800,"iy":920,"k":"HA"},{"ix":2400,"iy":1200,"k":"HA"},{"ix":2420,"iy":1130,"k":"HA"},{"ix":2720,"iy":1030,"k":"HA"},{"ix":2750,"iy":960,"k":"HA"},{"ix":2950,"iy":1010,"k":"HA"},{"ix":2980,"iy":940,"k":"HA"},{"ix":2930,"iy":870,"k":"HA"},{"ix":3190,"iy":1150,"k":"HA"},{"ix":3300,"iy":870,"k":"HA"},
{"ix":110,"iy":820,"k":"HA"},{"ix":220,"iy":620,"k":"HA"},{"ix":430,"iy":550,"k":"HA"},{"ix":480,"iy":620,"k":"HA"},{"ix":590,"iy":690,"k":"HA"},{"ix":940,"iy":620,"k":"HA"},{"ix":960,"iy":550,"k":"HA"},{"ix":1080,"iy":730,"k":"HA"},{"ix":1130,"iy":780,"k":"HA"},{"ix":1100,"iy":640,"k":"HA"},{"ix":1290,"iy":570,"k":"HA"},{"ix":1730,"iy":760,"k":"HA"},{"ix":1750,"iy":710,"k":"HA"},{"ix":1940,"iy":820,"k":"HA"},{"ix":2280,"iy":430,"k":"HA"},{"ix":2330,"iy":480,"k":"HA"},{"ix":2820,"iy":760,"k":"HA"},{"ix":3230,"iy":730,"k":"HA"},{"ix":3190,"iy":360,"k":"HA"},
{"ix":220,"iy":180,"k":"HA"},{"ix":270,"iy":220,"k":"HA"},{"ix":320,"iy":270,"k":"HA"},{"ix":410,"iy":110,"k":"HA"},{"ix":590,"iy":250,"k":"HA"},{"ix":640,"iy":270,"k":"HA"},{"ix":690,"iy":290,"k":"HA"},{"ix":730,"iy":250,"k":"HA"},{"ix":780,"iy":320,"k":"HA"},{"ix":660,"iy":200,"k":"HA"},{"ix":710,"iy":340,"k":"HA"},{"ix":820,"iy":360,"k":"HA"},{"ix":960,"iy":450,"k":"HA"},{"ix":1010,"iy":270,"k":"HA"},{"ix":1260,"iy":290,"k":"HA"},{"ix":1130,"iy":60,"k":"HA"},{"ix":1520,"iy":180,"k":"HA"},{"ix":1750,"iy":130,"k":"HA"},{"ix":2490,"iy":60,"k":"HA"},{"ix":2510,"iy":110,"k":"HA"},{"ix":2630,"iy":80,"k":"HA"},
{"ix":730,"iy":3290,"k":"HA"},{"ix":970,"iy":2990,"k":"HA"},{"ix":1880,"iy":3270,"k":"HA"},{"ix":2050,"iy":3250,"k":"HA"},{"ix":2110,"iy":3240,"k":"HA"},{"ix":2670,"iy":3270,"k":"HA"},{"ix":2940,"iy":3290,"k":"HA"},{"ix":2970,"iy":3270,"k":"HA"},{"ix":3000,"iy":3200,"k":"HA"},
{"ix":380,"iy":2240,"k":"NA"},{"ix":430,"iy":2310,"k":"NA"},{"ix":410,"iy":2400,"k":"NA"},{"ix":480,"iy":2490,"k":"NA"},{"ix":520,"iy":2560,"k":"NA"},{"ix":590,"iy":2630,"k":"NA"},{"ix":640,"iy":2700,"k":"NA"},{"ix":690,"iy":2720,"k":"NA"},{"ix":450,"iy":2580,"k":"NA"},{"ix":570,"iy":2450,"k":"NA"},{"ix":660,"iy":2540,"k":"NA"},{"ix":730,"iy":2560,"k":"NA"},{"ix":520,"iy":2680,"k":"NA"},{"ix":620,"iy":2770,"k":"NA"},{"ix":430,"iy":2170,"k":"NA"},{"ix":480,"iy":2350,"k":"NA"},{"ix":760,"iy":2630,"k":"NA"},{"ix":690,"iy":2450,"k":"NA"},{"ix":590,"iy":2380,"k":"NA"},{"ix":500,"iy":2260,"k":"NA"},{"ix":380,"iy":2510,"k":"NA"},{"ix":550,"iy":2750,"k":"NA"},{"ix":450,"iy":2680,"k":"NA"},{"ix":710,"iy":2650,"k":"NA"},{"ix":640,"iy":2310,"k":"NA"},{"ix":380,"iy":2330,"k":"NA"},
{"ix":1010,"iy":2560,"k":"NA"},{"ix":1030,"iy":2470,"k":"NA"},{"ix":1060,"iy":2380,"k":"NA"},{"ix":1020,"iy":2240,"k":"NA"},
{"ix":1130,"iy":2280,"k":"NA"},{"ix":1200,"iy":2240,"k":"NA"},{"ix":1260,"iy":2190,"k":"NA"},{"ix":1330,"iy":2170,"k":"NA"},{"ix":1400,"iy":2170,"k":"NA"},{"ix":1470,"iy":2210,"k":"NA"},{"ix":1430,"iy":2260,"k":"NA"},{"ix":1290,"iy":2210,"k":"NA"},{"ix":1360,"iy":2210,"k":"NA"},{"ix":1220,"iy":2260,"k":"NA"},
{"ix":1200,"iy":2700,"k":"NA"},{"ix":1260,"iy":2770,"k":"NA"},{"ix":1330,"iy":2790,"k":"NA"},{"ix":1400,"iy":2820,"k":"NA"},{"ix":1470,"iy":2810,"k":"NA"},{"ix":1540,"iy":2790,"k":"NA"},{"ix":1610,"iy":2770,"k":"NA"},{"ix":1680,"iy":2720,"k":"NA"},{"ix":1750,"iy":2700,"k":"NA"},{"ix":1360,"iy":2700,"k":"NA"},{"ix":1450,"iy":2730,"k":"NA"},{"ix":1570,"iy":2710,"k":"NA"},{"ix":1310,"iy":2650,"k":"NA"},
{"ix":1470,"iy":2540,"k":"NA"},{"ix":1520,"iy":2450,"k":"NA"},{"ix":1570,"iy":2400,"k":"NA"},{"ix":1590,"iy":2330,"k":"NA"},{"ix":1540,"iy":2280,"k":"NA"},
{"ix":1840,"iy":2790,"k":"NA"},{"ix":1940,"iy":2820,"k":"NA"},{"ix":1890,"iy":2720,"k":"NA"},{"ix":1960,"iy":2700,"k":"NA"},{"ix":1870,"iy":2650,"k":"NA"},{"ix":1980,"iy":2750,"k":"NA"},
{"ix":2210,"iy":2420,"k":"NA"},{"ix":2310,"iy":2400,"k":"NA"},{"ix":2260,"iy":2350,"k":"NA"},{"ix":2350,"iy":2310,"k":"NA"},{"ix":2260,"iy":2580,"k":"NA"},
{"ix":2580,"iy":2650,"k":"NA"},{"ix":2630,"iy":2610,"k":"NA"},{"ix":2610,"iy":2560,"k":"NA"},
{"ix":2720,"iy":2400,"k":"NA"},{"ix":2770,"iy":2330,"k":"NA"},{"ix":2820,"iy":2280,"k":"NA"},{"ix":2750,"iy":2240,"k":"NA"},{"ix":2700,"iy":2350,"k":"NA"},{"ix":2790,"iy":2400,"k":"NA"},{"ix":2840,"iy":2210,"k":"NA"},
{"ix":3280,"iy":2580,"k":"NA"},{"ix":3300,"iy":2510,"k":"NA"},
{"ix":1750,"iy":2050,"k":"NA"},{"ix":1820,"iy":2030,"k":"NA"},{"ix":1870,"iy":2010,"k":"NA"},{"ix":1940,"iy":2030,"k":"NA"},{"ix":1910,"iy":2070,"k":"NA"},{"ix":1800,"iy":1800,"k":"NA"},
{"ix":2930,"iy":2010,"k":"NA"},{"ix":2910,"iy":2070,"k":"NA"},
{"ix":3280,"iy":2070,"k":"NA"},{"ix":3300,"iy":2030,"k":"NA"},{"ix":3230,"iy":2010,"k":"NA"},{"ix":3190,"iy":2050,"k":"NA"},
{"ix":3300,"iy":1840,"k":"NA"},{"ix":3260,"iy":1750,"k":"NA"},
{"ix":690,"iy":1750,"k":"NA"},{"ix":570,"iy":1820,"k":"NA"},
{"ix":2420,"iy":2140,"k":"NA"},{"ix":2490,"iy":2100,"k":"NA"},
{"ix":220,"iy":1430,"k":"NA"},{"ix":550,"iy":1500,"k":"NA"},{"ix":590,"iy":1450,"k":"NA"},{"ix":620,"iy":1400,"k":"NA"},
{"ix":1060,"iy":1700,"k":"NA"},{"ix":1100,"iy":1660,"k":"NA"},{"ix":1130,"iy":1610,"k":"NA"},{"ix":1170,"iy":1590,"k":"NA"},{"ix":1200,"iy":1570,"k":"NA"},{"ix":1240,"iy":1590,"k":"NA"},{"ix":1260,"iy":1660,"k":"NA"},{"ix":1310,"iy":1610,"k":"NA"},{"ix":1220,"iy":1700,"k":"NA"},{"ix":1150,"iy":1540,"k":"NA"},
{"ix":1290,"iy":1380,"k":"NA"},{"ix":1310,"iy":1310,"k":"NA"},
{"ix":1470,"iy":1470,"k":"NA"},{"ix":1540,"iy":1520,"k":"NA"},{"ix":1610,"iy":1540,"k":"NA"},{"ix":1680,"iy":1570,"k":"NA"},{"ix":1730,"iy":1590,"k":"NA"},{"ix":1590,"iy":1610,"k":"NA"},{"ix":1660,"iy":1630,"k":"NA"},{"ix":1800,"iy":1660,"k":"NA"},{"ix":1520,"iy":1450,"k":"NA"},
{"ix":2310,"iy":1660,"k":"NA"},{"ix":2350,"iy":1610,"k":"NA"},
{"ix":2400,"iy":1700,"k":"NA"},{"ix":2450,"iy":1660,"k":"NA"},{"ix":2490,"iy":1610,"k":"NA"},{"ix":2510,"iy":1540,"k":"NA"},{"ix":2540,"iy":1470,"k":"NA"},{"ix":2560,"iy":1400,"k":"NA"},{"ix":2470,"iy":1570,"k":"NA"},{"ix":2530,"iy":1510,"k":"NA"},
{"ix":3140,"iy":1430,"k":"NA"},{"ix":3260,"iy":1700,"k":"NA"},
{"ix":3050,"iy":1310,"k":"NA"},{"ix":3090,"iy":1330,"k":"NA"},{"ix":3140,"iy":1360,"k":"NA"},{"ix":3190,"iy":1380,"k":"NA"},{"ix":3230,"iy":1370,"k":"NA"},
{"ix":250,"iy":890,"k":"NA"},{"ix":290,"iy":940,"k":"NA"},{"ix":320,"iy":920,"k":"NA"},{"ix":220,"iy":820,"k":"NA"},{"ix":450,"iy":1130,"k":"NA"},{"ix":890,"iy":1240,"k":"NA"},{"ix":920,"iy":1200,"k":"NA"},{"ix":1170,"iy":1100,"k":"NA"},{"ix":1200,"iy":1080,"k":"NA"},{"ix":1610,"iy":1030,"k":"NA"},{"ix":1660,"iy":1010,"k":"NA"},{"ix":1700,"iy":1030,"k":"NA"},
{"ix":1940,"iy":1100,"k":"NA"},{"ix":1980,"iy":1150,"k":"NA"},{"ix":2030,"iy":1080,"k":"NA"},{"ix":2070,"iy":1030,"k":"NA"},{"ix":2010,"iy":960,"k":"NA"},{"ix":1960,"iy":890,"k":"NA"},{"ix":1910,"iy":940,"k":"NA"},{"ix":2050,"iy":920,"k":"NA"},{"ix":2100,"iy":990,"k":"NA"},{"ix":1980,"iy":1030,"k":"NA"},
{"ix":2310,"iy":920,"k":"NA"},{"ix":2860,"iy":1290,"k":"NA"},
{"ix":3190,"iy":960,"k":"NA"},{"ix":3230,"iy":890,"k":"NA"},{"ix":3280,"iy":820,"k":"NA"},{"ix":3120,"iy":890,"k":"NA"},
{"ix":3280,"iy":1220,"k":"NA"},{"ix":3300,"iy":1170,"k":"NA"},
{"ix":40,"iy":410,"k":"NA"},{"ix":60,"iy":360,"k":"NA"},{"ix":110,"iy":450,"k":"NA"},
{"ix":200,"iy":500,"k":"NA"},{"ix":220,"iy":550,"k":"NA"},{"ix":270,"iy":640,"k":"NA"},{"ix":320,"iy":730,"k":"NA"},{"ix":360,"iy":800,"k":"NA"},{"ix":290,"iy":780,"k":"NA"},{"ix":340,"iy":690,"k":"NA"},{"ix":250,"iy":710,"k":"NA"},{"ix":380,"iy":760,"k":"NA"},
{"ix":410,"iy":500,"k":"NA"},{"ix":430,"iy":450,"k":"NA"},{"ix":450,"iy":550,"k":"NA"},{"ix":570,"iy":690,"k":"NA"},
{"ix":920,"iy":410,"k":"NA"},{"ix":960,"iy":380,"k":"NA"},{"ix":940,"iy":360,"k":"NA"},
{"ix":1200,"iy":660,"k":"NA"},{"ix":1220,"iy":620,"k":"NA"},
{"ix":1400,"iy":780,"k":"NA"},{"ix":1430,"iy":760,"k":"NA"},{"ix":1450,"iy":730,"k":"NA"},
{"ix":1520,"iy":500,"k":"NA"},{"ix":1570,"iy":450,"k":"NA"},{"ix":1540,"iy":410,"k":"NA"},
{"ix":2310,"iy":780,"k":"NA"},{"ix":2350,"iy":730,"k":"NA"},{"ix":2400,"iy":760,"k":"NA"},{"ix":2330,"iy":710,"k":"NA"},
{"ix":3050,"iy":820,"k":"NA"},{"ix":3070,"iy":730,"k":"NA"},{"ix":3090,"iy":640,"k":"NA"},{"ix":3120,"iy":550,"k":"NA"},{"ix":3140,"iy":480,"k":"NA"},{"ix":3190,"iy":410,"k":"NA"},{"ix":3160,"iy":590,"k":"NA"},{"ix":3090,"iy":450,"k":"NA"},{"ix":3230,"iy":520,"k":"NA"},{"ix":3280,"iy":550,"k":"NA"},{"ix":3210,"iy":690,"k":"NA"},{"ix":3140,"iy":780,"k":"NA"},{"ix":3070,"iy":570,"k":"NA"},
{"ix":40,"iy":40,"k":"NA"},{"ix":80,"iy":60,"k":"NA"},{"ix":110,"iy":20,"k":"NA"},{"ix":220,"iy":130,"k":"NA"},{"ix":270,"iy":180,"k":"NA"},
{"ix":760,"iy":180,"k":"NA"},{"ix":780,"iy":130,"k":"NA"},{"ix":820,"iy":110,"k":"NA"},{"ix":870,"iy":150,"k":"NA"},{"ix":920,"iy":200,"k":"NA"},{"ix":960,"iy":250,"k":"NA"},{"ix":1010,"iy":290,"k":"NA"},{"ix":800,"iy":60,"k":"NA"},{"ix":850,"iy":30,"k":"NA"},{"ix":890,"iy":80,"k":"NA"},{"ix":940,"iy":130,"k":"NA"},{"ix":990,"iy":360,"k":"NA"},
{"ix":1130,"iy":180,"k":"NA"},{"ix":1680,"iy":130,"k":"NA"},{"ix":2170,"iy":20,"k":"NA"},
{"ix":2540,"iy":220,"k":"NA"},{"ix":2580,"iy":270,"k":"NA"},{"ix":2630,"iy":290,"k":"NA"},{"ix":2680,"iy":340,"k":"NA"},{"ix":2720,"iy":360,"k":"NA"},{"ix":2510,"iy":180,"k":"NA"},{"ix":2490,"iy":110,"k":"NA"},
{"ix":290,"iy":3290,"k":"NA"},
{"ix":1910,"iy":3260,"k":"NA"},{"ix":1970,"iy":3200,"k":"NA"},{"ix":1940,"iy":3230,"k":"NA"},
{"ix":2290,"iy":3290,"k":"NA"},{"ix":2330,"iy":3220,"k":"NA"},{"ix":2370,"iy":3150,"k":"NA"},
{"ix":2500,"iy":3240,"k":"NA"},{"ix":2530,"iy":3200,"k":"NA"},
{"ix":2210,"iy":3070,"k":"NA"},{"ix":2400,"iy":3090,"k":"NA"},{"ix":2490,"iy":3050,"k":"NA"},{"ix":2310,"iy":3120,"k":"NA"},{"ix":2770,"iy":3070,"k":"NA"},{"ix":2880,"iy":3120,"k":"NA"},{"ix":2930,"iy":3020,"k":"NA"},{"ix":3290,"iy":2720,"k":"NA"},
{"ix":2850,"iy":3290,"k":"NA"},{"ix":2910,"iy":3240,"k":"NA"},{"ix":2970,"iy":3150,"k":"NA"},{"ix":3030,"iy":3080,"k":"NA"},{"ix":3110,"iy":3010,"k":"NA"},{"ix":3200,"iy":2940,"k":"NA"},{"ix":3290,"iy":2920,"k":"NA"},{"ix":3230,"iy":2850,"k":"NA"},{"ix":3170,"iy":2800,"k":"NA"},{"ix":3080,"iy":3100,"k":"NA"},{"ix":3260,"iy":2730,"k":"NA"}
]
},
"vconcat":[
{
 "width":560,"height":421,
 "title":{"text":"A","anchor":"start","frame":"group","fontSize":39,"fontWeight":"bold","color":"#111","dx":-86,"dy":67,"offset":0,"baseline":"alphabetic"},
 "layer":[
  {"mark":{"type":"rule","color":"#8a8a8a","strokeWidth":1.3},"encoding":{"y":{"datum":0,"type":"quantitative","scale":{"domain":[-20,100],"nice":false,"zero":false},"axis":{"values":[-20,0,20,40,60,80,100],"title":"Lr-r"}}}},
  {"data":{"name":"A_env"},"mark":{"type":"line","strokeDash":[11,5],"strokeWidth":1.3},
   "encoding":{
    "x":{"field":"d","type":"quantitative","scale":{"domain":[0,200],"nice":false,"zero":false},"axis":{"values":[0,50,100,150,200],"title":"Distance (nm)"}},
    "y":{"field":"v","type":"quantitative","scale":{"domain":[-20,100],"nice":false,"zero":false},"axis":{"values":[-20,0,20,40,60,80,100],"title":"Lr-r"}},
    "stroke":{"field":"e","type":"nominal","scale":{"domain":["k+","k-","g+","g-","r+","r-","p+","p-"],"range":["#333333","#333333","#2fa862","#2fa862","#e2453c","#e2453c","#7777bd","#7777bd"]},"legend":null}}},
  {"data":{"name":"A_solid"},"mark":{"type":"line","strokeWidth":3.6},
   "encoding":{
    "x":{"field":"d","type":"quantitative","scale":{"domain":[0,200],"nice":false,"zero":false},"axis":{"values":[0,50,100,150,200],"title":"Distance (nm)"}},
    "y":{"field":"v","type":"quantitative","scale":{"domain":[-20,100],"nice":false,"zero":false},"axis":{"values":[-20,0,20,40,60,80,100],"title":"Lr-r"}},
    "color":{"field":"s","type":"nominal","scale":{"domain":["M2-HA, inf","mut1M2-HA, inf","M2-HA, transf","mut1M2-HA, transf"],"range":["#111111","#10994a","#e3211e","#6b6bb4"]},
     "legend":{"legendX":7,"legendY":8,"strokeColor":"#222","padding":13,"symbolSize":2100,"labelFontSize":19,"labelOffset":10,"rowPadding":6,"clipHeight":19}}}}
 ]
},
{
 "width":560,"height":418,
 "title":{"text":"B","anchor":"start","frame":"group","fontSize":39,"fontWeight":"bold","color":"#111","dx":-86,"dy":67,"offset":0,"baseline":"alphabetic"},
 "layer":[
  {"mark":{"type":"rule","color":"#8a8a8a","strokeWidth":1.3},"encoding":{"y":{"datum":0,"type":"quantitative","scale":{"domain":[-65,80],"nice":false,"zero":false},"axis":{"values":[-60,-40,-20,0,20,40,60,80],"title":"Lr-r"}}}},
  {"data":{"name":"B_env"},"mark":{"type":"line","strokeDash":[11,5],"strokeWidth":1.3},
   "encoding":{
    "x":{"field":"d","type":"quantitative","scale":{"domain":[0,200],"nice":false,"zero":false},"axis":{"values":[0,50,100,150,200],"title":"Distance (nm)"}},
    "y":{"field":"v","type":"quantitative","scale":{"domain":[-65,80],"nice":false,"zero":false},"axis":{"values":[-60,-40,-20,0,20,40,60,80],"title":"Lr-r"}},
    "stroke":{"field":"e","type":"nominal","scale":{"domain":["k+","k-","g+","g-","r+","r-","p+","p-"],"range":["#222222","#222222","#2fa862","#2fa862","#e2453c","#e2453c","#7777bd","#7777bd"]},"legend":null}}},
  {"data":{"name":"B_solid"},"mark":{"type":"line","strokeWidth":3.6},
   "encoding":{
    "x":{"field":"d","type":"quantitative","scale":{"domain":[0,200],"nice":false,"zero":false},"axis":{"values":[0,50,100,150,200],"title":"Distance (nm)"}},
    "y":{"field":"v","type":"quantitative","scale":{"domain":[-65,80],"nice":false,"zero":false},"axis":{"values":[-60,-40,-20,0,20,40,60,80],"title":"Lr-r"}},
    "color":{"field":"s","type":"nominal","scale":{"domain":["M2-NA, inf","mut1M2-NA, inf","M2-NA, transf","mut1M2-NA, transf"],"range":["#111111","#10994a","#e3211e","#6b6bb4"]},
     "legend":{"legendX":11,"legendY":8,"strokeColor":"#222","padding":12,"symbolSize":1450,"labelFontSize":15.5,"labelOffset":7,"rowPadding":5,"clipHeight":16}}}}
 ]
},
{
 "width":560,"height":422,
 "view":{"stroke":"#9a9a9a"},
 "title":{"text":"C","anchor":"start","frame":"group","fontSize":39,"fontWeight":"bold","color":"#111","dx":-86,"dy":67,"offset":0,"baseline":"alphabetic"},
 "resolve":{"scale":{"x":"independent","y":"independent"},"axis":{"x":"independent","y":"independent"}},
 "layer":[
  {"layer":[
   {"mark":{"type":"rule","color":"#8a8a8a","strokeWidth":1.3},"encoding":{"y":{"datum":0,"type":"quantitative","scale":{"domain":[-20,60],"nice":false,"zero":false},"axis":{"values":[-20,0,20,40,60],"title":"Lr-r","domainColor":"#9a9a9a","tickColor":"#9a9a9a"}}}},
   {"data":{"name":"C_env"},"mark":{"type":"line","strokeDash":[11,5],"strokeWidth":1.2},
    "encoding":{
     "x":{"field":"d","type":"quantitative","scale":{"domain":[0,200],"nice":false,"zero":false},"axis":{"values":[0,50,100,150,200],"title":"Distance (nm)","domainColor":"#9a9a9a","tickColor":"#9a9a9a"}},
     "y":{"field":"v","type":"quantitative","scale":{"domain":[-20,60],"nice":false,"zero":false},"axis":{"values":[-20,0,20,40,60],"title":"Lr-r","domainColor":"#9a9a9a","tickColor":"#9a9a9a"}},
     "stroke":{"field":"e","type":"nominal","scale":{"domain":["k+","k-","r+","r-"],"range":["#7a7a7a","#7a7a7a","#f28b8b","#f28b8b"]},"legend":null}}},
   {"data":{"name":"C_solid"},"mark":{"type":"line","strokeWidth":3.6},
    "encoding":{
     "x":{"field":"d","type":"quantitative","scale":{"domain":[0,200],"nice":false,"zero":false},"axis":{"values":[0,50,100,150,200],"title":"Distance (nm)","domainColor":"#9a9a9a","tickColor":"#9a9a9a"}},
     "y":{"field":"v","type":"quantitative","scale":{"domain":[-20,60],"nice":false,"zero":false},"axis":{"values":[-20,0,20,40,60],"title":"Lr-r","domainColor":"#9a9a9a","tickColor":"#9a9a9a"}},
     "color":{"field":"s","type":"nominal","scale":{"domain":["NA-HA, inf","NA-HA, transf"],"range":["#111111","#ee1c1c"]},
      "legend":{"legendX":296,"legendY":7,"strokeColor":"#9a9a9a","padding":12,"symbolSize":1850,"labelFontSize":19.5,"labelOffset":11,"rowPadding":5,"clipHeight":20}}}}
  ]},
  {"layer":[
   {"mark":{"type":"rect","fill":"white","stroke":"#9a9a9a","strokeWidth":1.2},
    "encoding":{
     "x":{"datum":0,"type":"quantitative","scale":{"domain":[0,3320],"range":[46,286],"nice":false,"zero":false},"axis":{"orient":"bottom","offset":-174,"values":[0,1000,2000,3000],"title":null,"tickSize":4,"labelFontSize":12.5,"labelPadding":2,"labelColor":"#333","domainColor":"#9a9a9a","tickColor":"#9a9a9a","domainWidth":1.2,"tickWidth":1.2}},
     "x2":{"datum":3320},
     "y":{"datum":0,"type":"quantitative","scale":{"domain":[0,3320],"range":[248,9],"nice":false,"zero":false},"axis":{"orient":"left","offset":-46,"values":[0,1000,2000,3000],"title":null,"tickSize":4,"labelFontSize":12.5,"labelPadding":2,"labelColor":"#333","domainColor":"#9a9a9a","tickColor":"#9a9a9a","domainWidth":1.2,"tickWidth":1.2}},
     "y2":{"datum":3320}}},
   {"data":{"name":"C_inset"},"mark":{"type":"point","filled":true,"size":26,"opacity":1},
    "encoding":{
     "x":{"field":"ix","type":"quantitative","scale":{"domain":[0,3320],"range":[46,286],"nice":false,"zero":false},"axis":{"orient":"bottom","offset":-174,"values":[0,1000,2000,3000],"title":null,"tickSize":4,"labelFontSize":12.5,"labelPadding":2,"labelColor":"#333","domainColor":"#9a9a9a","tickColor":"#9a9a9a","domainWidth":1.2,"tickWidth":1.2}},
     "y":{"field":"iy","type":"quantitative","scale":{"domain":[0,3320],"range":[248,9],"nice":false,"zero":false},"axis":{"orient":"left","offset":-46,"values":[0,1000,2000,3000],"title":null,"tickSize":4,"labelFontSize":12.5,"labelPadding":2,"labelColor":"#333","domainColor":"#9a9a9a","tickColor":"#9a9a9a","domainWidth":1.2,"tickWidth":1.2}},
     "fill":{"field":"k","type":"nominal","scale":{"domain":["NA","HA"],"range":["#d92b20","#6f6fbd"]},
      "legend":{"legendX":49,"legendY":11,"symbolType":"circle","symbolSize":18,"labelFontSize":12,"labelColor":"#333","padding":3,"strokeColor":"#888","rowPadding":0,"labelOffset":2,"clipHeight":11}}}}
  ]}
 ]
}
]
}
